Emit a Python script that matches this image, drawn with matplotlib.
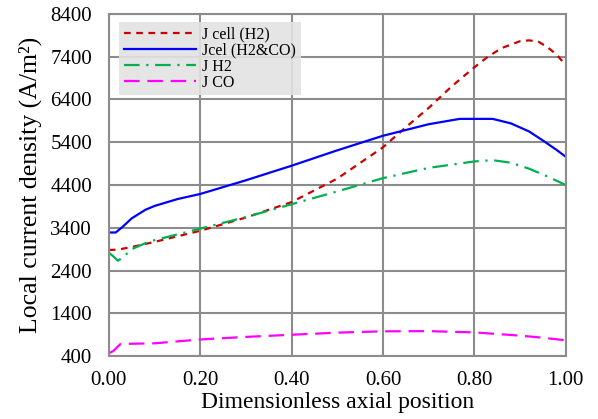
import numpy as np
import matplotlib.pyplot as plt

plt.rcParams['font.family'] = 'Liberation Serif'

# values
x_cell = [0.0, 0.02, 0.05, 0.10, 0.20, 0.30, 0.40, 0.50, 0.60, 0.65, 0.70, 0.72, 0.75, 0.80, 0.83, 0.86, 0.90, 0.92, 0.94, 0.96, 0.98, 1.0]
j_cell = [2880, 2890, 2950, 3070, 3330, 3640, 4000, 4550, 5280, 5750, 6200, 6400, 6700, 7150, 7400, 7600, 7760, 7780, 7750, 7620, 7450, 7200]

x_cel = [0.0, 0.015, 0.03, 0.05, 0.08, 0.10, 0.15, 0.20, 0.30, 0.40, 0.50, 0.60, 0.70, 0.768, 0.84, 0.88, 0.92, 0.95, 0.98, 1.0]
j_cel = [3290, 3290, 3420, 3620, 3820, 3910, 4070, 4190, 4510, 4850, 5210, 5550, 5820, 5945, 5945, 5840, 5650, 5440, 5220, 5060]

x_h2 = [0.0, 0.01, 0.02, 0.03, 0.05, 0.08, 0.10, 0.20, 0.30, 0.40, 0.50, 0.60, 0.70, 0.80, 0.84, 0.88, 0.92, 0.96, 1.0]
j_h2 = [2820, 2730, 2630, 2700, 2900, 3040, 3110, 3380, 3650, 3950, 4250, 4560, 4800, 4950, 4980, 4920, 4780, 4600, 4400]

x_co = [0.0, 0.01, 0.025, 0.05, 0.10, 0.20, 0.30, 0.40, 0.50, 0.60, 0.70, 0.80, 0.90, 0.95, 1.0]
j_co = [470, 520, 680, 690, 700, 790, 850, 900, 950, 980, 985, 955, 880, 830, 770]

fig = plt.figure(figsize=(5.98, 4.19), dpi=100)
ax = fig.add_axes([0.182, 0.150, 0.764, 0.817])

ax.plot(x_cell, j_cell, color='#cc0000', linestyle=(0, (3, 2.5)), linewidth=1.6, label='J cell (H2)')
ax.plot(x_cel, j_cel, color='#0000ff', linestyle='-', linewidth=1.6, label='Jcel (H2&CO)')
ax.plot(x_h2, j_h2, color='#00b050', linestyle=(0, (7, 3, 1, 3)), linewidth=1.6, label='J H2')
ax.plot(x_co, j_co, color='#ff00ff', linestyle=(0, (7, 3.5)), linewidth=1.6, label='J CO')

ax.set_xlim(0, 1)
ax.set_ylim(400, 8400)
ax.set_xticks(np.arange(0, 1.01, 0.2))
ax.set_xticklabels(['%.2f' % v for v in np.arange(0, 1.01, 0.2)])
ax.set_yticks(np.arange(400, 8401, 1000))
ax.tick_params(length=0, labelsize=15)
ax.tick_params(axis='x', pad=11)
ax.tick_params(axis='y', pad=12)
ax.grid(True, color='#8c8c8c', linewidth=1.5)
for s in ax.spines.values():
    s.set_color('#8c8c8c')
    s.set_linewidth(1.5)

ax.set_xlabel('Dimensionless axial position', fontsize=17, labelpad=1)
ax.set_ylabel('Local current density (A/m²)', fontsize=18.5, labelpad=6)

leg = ax.legend(loc='upper left', bbox_to_anchor=(0.005, 1.0), fontsize=11.5, frameon=True,
                handlelength=4.5, labelspacing=0.0, borderpad=0.3, handletextpad=0.4)
leg.get_frame().set_facecolor('#e3e3e3')
leg.get_frame().set_edgecolor('none')
leg.get_frame().set_alpha(0.9)
leg.get_frame().set_boxstyle('square', pad=0)

fig.savefig('out.png', dpi=100)
